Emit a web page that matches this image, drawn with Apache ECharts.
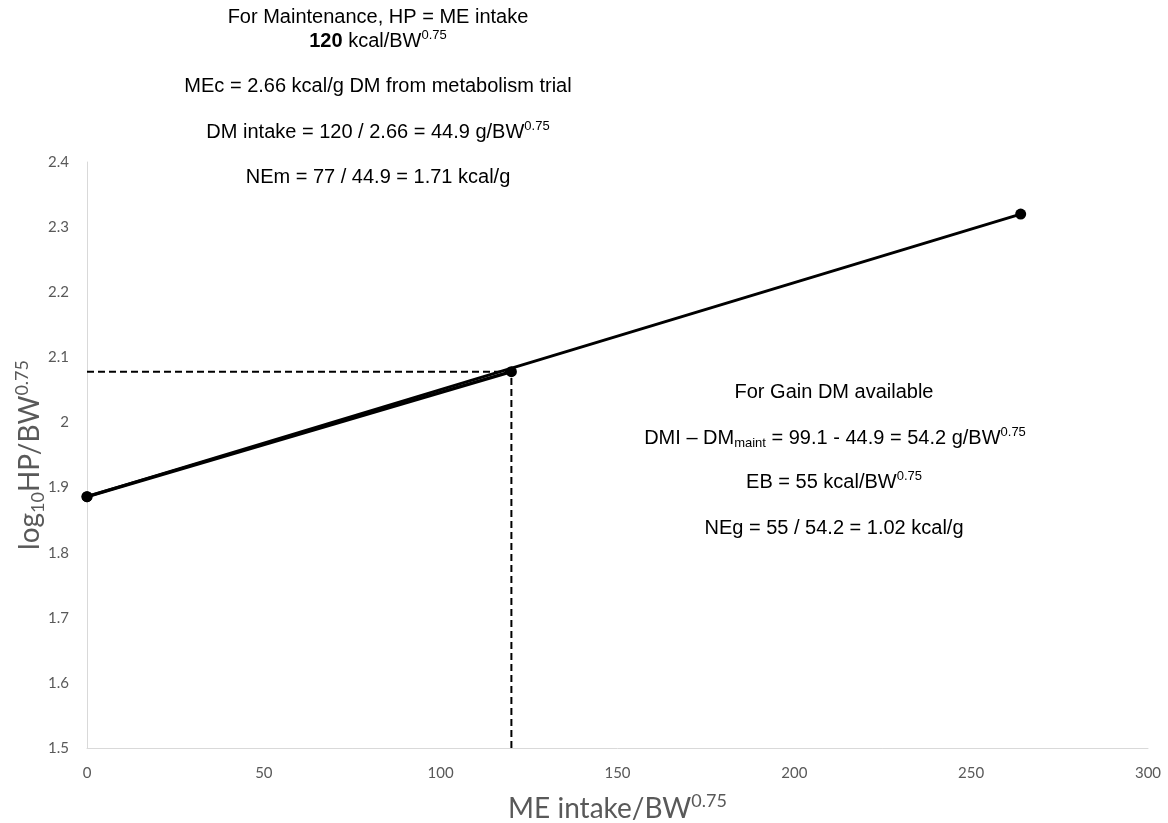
<!DOCTYPE html>
<html>
<head>
<meta charset="utf-8">
<script src="https://cdn.jsdelivr.net/npm/echarts@6/dist/echarts.min.js"></script>
<style>
  html, body { margin: 0; padding: 0; background: #fff; }
  #chart { width: 1168px; height: 823px; }
</style>
</head>
<body>
<div id="chart"></div>
<script>
// data
var fitX = [0, 264];
var fitY = [1.886, 2.32];
var maintX = [0, 120];
var maintY = [1.886, 2.078];
var hDashX = [0, 120];
var hDashY = [2.078, 2.078];
var vDashX = [120, 120];
var vDashY = [1.5, 2.078];
var xTicks = [0, 300, 50];   // min, max, step
var yTicks = [1.5, 2.4, 0.1];

function pairs(xs, ys) {
  return xs.map(function (x, i) { return [x, ys[i]]; });
}

var chart = echarts.init(document.getElementById('chart'));

var txt = {
  a: { fontFamily: 'Liberation Sans', fontSize: 20, color: '#000', lineHeight: 24, fontWeight: 'normal' },
  b: { fontFamily: 'Liberation Sans', fontSize: 20, color: '#000', lineHeight: 24, fontWeight: 'bold' },
  sup: { fontFamily: 'Liberation Sans', fontSize: 13, color: '#000', lineHeight: 16, verticalAlign: 'top', fontWeight: 'normal' },
  sub: { fontFamily: 'Liberation Sans', fontSize: 13, color: '#000', lineHeight: 14, verticalAlign: 'bottom', fontWeight: 'normal' }
};

function note(text, cx, top) {
  return { text: text, left: cx, top: top, textAlign: 'center', padding: 0,
           textStyle: { fontWeight: 'normal', rich: txt } };
}

var axName = {
  a: { fontFamily: 'Lato', fontSize: 28, color: '#595959', lineHeight: 34 },
  sup: { fontFamily: 'Lato', fontSize: 18, color: '#595959', lineHeight: 20, verticalAlign: 'top' },
  sub: { fontFamily: 'Lato', fontSize: 18, color: '#595959', lineHeight: 18, verticalAlign: 'bottom' }
};

var option = {
  animation: false,
  title: [
    note('{a|For Maintenance, HP = ME intake}', 378, 5),
    note('{b|120}{a| kcal/BW}{sup|0.75}', 378, 29),
    note('{a|MEc = 2.66 kcal/g DM from metabolism trial}', 378, 74),
    note('{a|DM intake = 120 / 2.66 = 44.9 g/BW}{sup|0.75}', 378, 120),
    note('{a|NEm = 77 / 44.9 = 1.71 kcal/g}', 378, 165),
    note('{a|For Gain DM available}', 834, 380),
    note('{a|DMI \u2013 DM}{sub|maint}{a| = 99.1 - 44.9 = 54.2 g/BW}{sup|0.75}', 835, 426),
    note('{a|EB = 55 kcal/BW}{sup|0.75}', 834, 470),
    note('{a|NEg = 55 / 54.2 = 1.02 kcal/g}', 834, 516)
  ],
  grid: { left: 87, right: 20, top: 162, bottom: 75, outerBoundsMode: 'none', containLabel: false },
  xAxis: {
    type: 'value', min: xTicks[0], max: xTicks[1], interval: xTicks[2],
    axisLine: { show: true, lineStyle: { color: '#d9d9d9', width: 1 } },
    axisTick: { show: false },
    splitLine: { show: false },
    axisLabel: { color: '#595959', fontFamily: 'Lato', fontSize: 15, margin: 18 },
    name: '{a|ME intake/BW}{sup|0.75}',
    nameLocation: 'middle', nameGap: 44, nameMoveOverlap: false,
    nameTextStyle: { rich: axName }
  },
  yAxis: {
    type: 'value', min: yTicks[0], max: yTicks[1], interval: yTicks[2],
    axisLine: { show: true, lineStyle: { color: '#d9d9d9', width: 1 } },
    axisTick: { show: false },
    splitLine: { show: false },
    axisLabel: { color: '#595959', fontFamily: 'Lato', fontSize: 15, margin: 18 },
    name: '{a|log}{sub|10}{a|HP/BW}{sup|0.75}',
    nameLocation: 'middle', nameGap: 40, nameMoveOverlap: false,
    nameTextStyle: { rich: axName }
  },
  series: [
    {
      type: 'line', data: pairs(hDashX, hDashY), showSymbol: false, symbol: 'none',
      lineStyle: { color: '#000', width: 2, type: [7, 4] }
    },
    {
      type: 'line', data: pairs(vDashX, vDashY), showSymbol: false, symbol: 'none',
      lineStyle: { color: '#000', width: 2, type: [7, 4] }
    },
    {
      type: 'line', data: pairs(maintX, maintY),
      symbol: 'circle', symbolSize: 11,
      itemStyle: { color: '#000' },
      lineStyle: { color: '#000', width: 3.5 }
    },
    {
      type: 'line', data: pairs(fitX, fitY),
      symbol: 'circle', symbolSize: 11,
      itemStyle: { color: '#000' },
      lineStyle: { color: '#000', width: 3 }
    }
  ]
};

chart.setOption(option);
</script>
</body>
</html>
